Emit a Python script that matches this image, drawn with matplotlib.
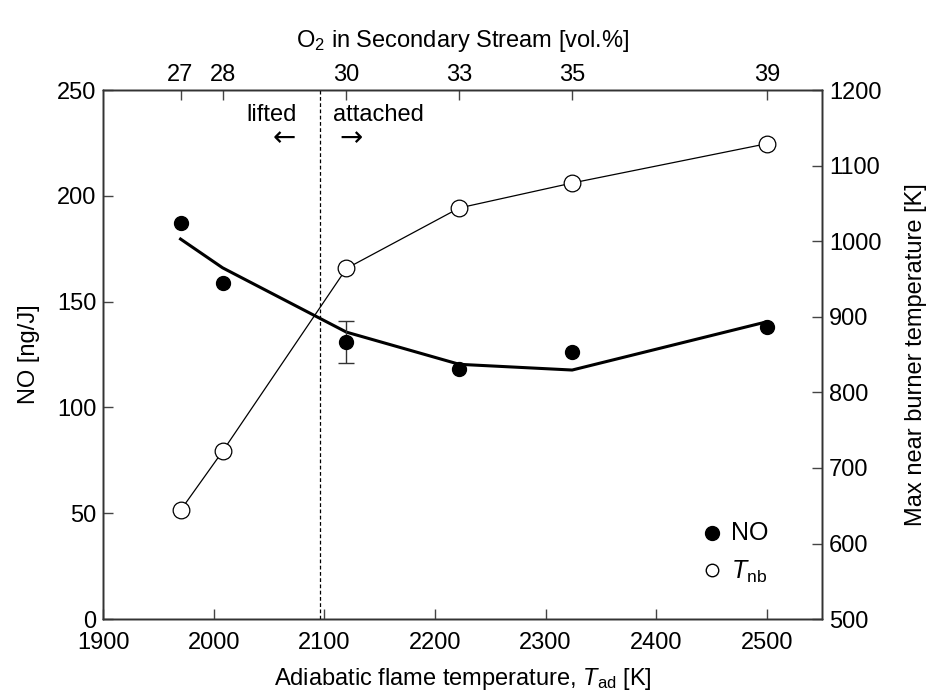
import matplotlib
matplotlib.use('Agg')
import matplotlib.pyplot as plt

plt.rcParams['font.family'] = ['Liberation Sans', 'DejaVu Sans']
plt.rcParams['mathtext.fontset'] = 'custom'
plt.rcParams['mathtext.rm'] = 'Liberation Sans'
plt.rcParams['mathtext.it'] = 'Liberation Sans:italic'
plt.rcParams['font.size'] = 17

# measured points
t_ad = [1970, 2008, 2120, 2222, 2324, 2500]
no_meas = [187, 159, 131, 118, 126, 138]
no_err = [0, 0, 10, 0, 0, 0]
t_nb = [644, 722, 964, 1044, 1077, 1129]
# model line for NO
no_model = [179.6, 166, 135.6, 120.4, 117.7, 140.5]
# top axis: O2 in secondary stream
o2_labels = ['27', '28', '30', '33', '35', '39']
t_lift = 2096

fig = plt.figure(figsize=(9.29, 6.98), dpi=100)
ax1 = fig.add_axes([0.111, 0.113, 0.774, 0.758])

ax1.plot(t_ad, no_model, '-', color='black', linewidth=2.2, zorder=2)
ax1.plot(t_ad, no_meas, 'o', color='black', markersize=10, label='NO', zorder=3)
ax1.errorbar(t_ad[2], no_meas[2], yerr=no_err[2], fmt='none', ecolor='#333333',
             elinewidth=1, capsize=6, capthick=1)
ax1.axvline(t_lift, color='black', linestyle='--', linewidth=0.9, dashes=(3, 2))

ax1.set_xlim(1900, 2550)
ax1.set_ylim(0, 250)
ax1.set_xticks([1900, 2000, 2100, 2200, 2300, 2400, 2500])
ax1.set_yticks([0, 50, 100, 150, 200, 250])
ax1.set_ylabel('NO [ng/J]', labelpad=12)
ax1.set_xlabel('Adiabatic flame temperature, $\\mathit{T}_\\mathregular{ad}$ [K]', labelpad=9)
ax1.tick_params(direction='in', length=7, width=1, color='#444444')
ax1.tick_params(axis='x', pad=9)
ax1.tick_params(axis='y', pad=5)

ax2 = ax1.twinx()
ax2.plot(t_ad, t_nb, '-', color='black', linewidth=0.9, zorder=2)
ax2.plot(t_ad, t_nb, 'o', markerfacecolor='white', markeredgecolor='black',
         markeredgewidth=0.9, markersize=12, zorder=3)
ax2.set_ylim(500, 1200)
ax2.set_yticks(range(500, 1201, 100))
ax2.set_ylabel('Max near burner temperature [K]', labelpad=17)
ax2.tick_params(direction='in', length=7, width=1, color='#444444', pad=5)

ax3 = ax1.twiny()
ax3.set_xlim(ax1.get_xlim())
ax3.set_xticks(t_ad)
ax3.set_xticklabels(o2_labels)
ax3.tick_params(direction='in', length=7, width=1, color='#444444', pad=3)
ax3.set_xlabel('O$_\\mathregular{2}$ in Secondary Stream [vol.%]', labelpad=12)

for a in (ax1, ax2, ax3):
    for s in a.spines.values():
        s.set_color('#333333')
        s.set_linewidth(1)

ax1.text(2052, 238, 'lifted', ha='center', va='center')
ax1.text(2064, 227.5, '\u2190', ha='center', va='center', fontsize=20,
         family='DejaVu Sans')
ax1.text(2108, 238, 'attached', ha='left', va='center')
ax1.text(2124, 227.5, '\u2192', ha='center', va='center', fontsize=20,
         family='DejaVu Sans')

# legend drawn by hand
ax1.plot([2450], [40.5], 'o', color='black', markersize=10)
ax1.text(2468, 40.5, 'NO', ha='left', va='center', fontsize=18)
ax2.plot([2450], [565], 'o', markerfacecolor='white', markeredgecolor='black', markersize=9)
ax2.text(2468, 563, '$\\mathit{T}_\\mathregular{nb}$', ha='left', va='center', fontsize=18)

ax1.set_zorder(ax2.get_zorder() + 1)
ax1.patch.set_visible(False)

plt.savefig('out.png', dpi=100)
plt.close()
